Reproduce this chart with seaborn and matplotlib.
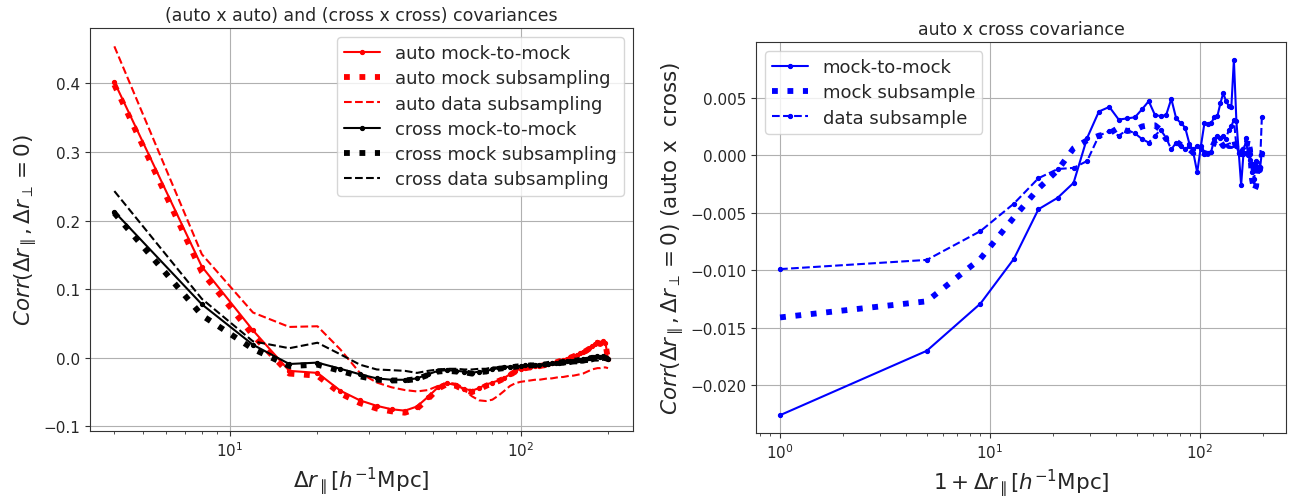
import matplotlib
matplotlib.use("Agg")
import matplotlib.pyplot as plt
import seaborn as sns

# Line-of-sight separations [h^-1 Mpc]
dr_left = [4, 8, 12, 16, 20, 24, 28, 32, 36, 40, 44, 48, 52, 56, 60, 64, 68, 72, 76, 80,
           84, 88, 92, 96, 100, 104, 108, 112, 116, 120, 124, 128, 132, 136, 140, 144, 148,
           152, 156, 160, 164, 168, 172, 176, 180, 184, 188, 192, 196, 200]
dr_right = [0, 4, 8, 12, 16, 20, 24, 28, 32, 36, 40, 44, 48, 52, 56, 60, 64, 68, 72, 76,
            80, 84, 88, 92, 96, 100, 104, 108, 112, 116, 120, 124, 128, 132, 136, 140, 144,
            148, 152, 156, 160, 164, 168, 172, 176, 180, 184, 188, 192, 196]

# (auto x auto) correlations
auto_mock_to_mock = [0.402, 0.133, 0.040, -0.019, -0.022, -0.048, -0.062, -0.070, -0.075, -0.077,
                     -0.071, -0.057, -0.043, -0.037, -0.040, -0.045, -0.048, -0.044, -0.039, -0.036,
                     -0.033, -0.029, -0.024, -0.019, -0.016, -0.015, -0.013, -0.012, -0.012, -0.010,
                     -0.009, -0.008, -0.006, -0.005, -0.003, -0.001, 0.001, 0.003, 0.004, 0.007,
                     0.009, 0.011, 0.014, 0.017, 0.020, 0.023, 0.021, 0.024, 0.022, -0.002]
auto_mock_subsampling = [0.398, 0.125, 0.033, -0.023, -0.026, -0.052, -0.066, -0.074, -0.078, -0.080,
                         -0.074, -0.060, -0.045, -0.038, -0.041, -0.047, -0.050, -0.046, -0.041, -0.037,
                         -0.034, -0.030, -0.025, -0.020, -0.017, -0.015, -0.014, -0.013, -0.012, -0.011,
                         -0.009, -0.008, -0.007, -0.005, -0.004, -0.002, 0.000, 0.002, 0.004, 0.006,
                         0.008, 0.010, 0.013, 0.016, 0.019, 0.022, 0.020, 0.023, 0.021, -0.003]
auto_data_subsampling = [0.454, 0.151, 0.066, 0.045, 0.046, 0.012, -0.022, -0.036, -0.043, -0.047,
                         -0.049, -0.047, -0.041, -0.036, -0.038, -0.047, -0.056, -0.062, -0.063, -0.061,
                         -0.055, -0.048, -0.041, -0.037, -0.035, -0.034, -0.033, -0.032, -0.032, -0.031,
                         -0.030, -0.030, -0.029, -0.028, -0.028, -0.027, -0.026, -0.026, -0.025, -0.024,
                         -0.023, -0.021, -0.019, -0.017, -0.016, -0.015, -0.015, -0.014, -0.014, -0.015]

# (cross x cross) correlations
cross_mock_to_mock = [0.213, 0.078, 0.019, -0.009, -0.007, -0.016, -0.024, -0.030, -0.032, -0.032,
                      -0.030, -0.024, -0.019, -0.018, -0.019, -0.020, -0.022, -0.020, -0.019, -0.017,
                      -0.015, -0.014, -0.013, -0.012, -0.012, -0.011, -0.011, -0.010, -0.010, -0.009,
                      -0.009, -0.008, -0.007, -0.007, -0.006, -0.005, -0.005, -0.004, -0.003, -0.003,
                      -0.002, -0.001, 0.000, 0.000, 0.001, 0.002, 0.001, 0.002, 0.000, -0.002]
cross_mock_subsampling = [0.211, 0.062, 0.013, -0.012, -0.010, -0.019, -0.027, -0.032, -0.033, -0.033,
                          -0.031, -0.025, -0.020, -0.019, -0.020, -0.021, -0.023, -0.021, -0.020, -0.018,
                          -0.016, -0.015, -0.014, -0.013, -0.012, -0.012, -0.011, -0.011, -0.010, -0.010,
                          -0.009, -0.008, -0.008, -0.007, -0.006, -0.006, -0.005, -0.004, -0.004, -0.003,
                          -0.002, -0.002, -0.001, 0.000, 0.000, 0.001, 0.001, 0.001, 0.000, -0.002]
cross_data_subsampling = [0.243, 0.086, 0.024, 0.014, 0.022, 0.005, -0.010, -0.017, -0.018, -0.019,
                          -0.022, -0.019, -0.017, -0.016, -0.016, -0.017, -0.017, -0.016, -0.016, -0.014,
                          -0.014, -0.013, -0.013, -0.012, -0.012, -0.011, -0.011, -0.011, -0.010, -0.011,
                          -0.010, -0.010, -0.010, -0.010, -0.010, -0.009, -0.009, -0.008, -0.008, -0.007,
                          -0.007, -0.006, -0.006, -0.005, -0.004, -0.004, -0.003, -0.003, -0.002, -0.002]

# (auto x cross) correlations
ac_mock_to_mock = [-0.0226, -0.0170, -0.0129, -0.0090, -0.0047, -0.0037, -0.0024, 0.0015, 0.0038, 0.0042,
                   0.0031, 0.0032, 0.0033, 0.0040, 0.0047, 0.0035, 0.0034, 0.0035, 0.0049, 0.0032,
                   0.0028, 0.0024, 0.0010, 0.0002, -0.0015, 0.0008, 0.0028, 0.0027, 0.0028, 0.0033,
                   0.0034, 0.0045, 0.0054, 0.0047, 0.0043, 0.0042, 0.0083, 0.0030, 0.0002, -0.0026,
                   0.0001, 0.0002, 0.0000, -0.0004, -0.0008, -0.0012, -0.0006, -0.0010, -0.0011, 0.0002]
ac_mock_subsample = [-0.0141, -0.0127, -0.0090, -0.0054, -0.0029, -0.0013, 0.0006, 0.0013, 0.0017, 0.0019,
                     0.0024, 0.0021, 0.0022, 0.0025, 0.0026, 0.0026, 0.0022, 0.0014, 0.0015, 0.0012,
                     0.0009, 0.0008, 0.0005, 0.0002, 0.0005, 0.0003, 0.0002, 0.0001, 0.0005, 0.0011,
                     0.0008, 0.0012, 0.0008, 0.0014, 0.0008, 0.0008, 0.0014, 0.0005, 0.0001, 0.0002,
                     0.0005, 0.0002, 0.0014, 0.0005, -0.0021, -0.0031, -0.0027, -0.0007, -0.0013, 0.0001]
ac_data_subsample = [-0.0099, -0.0091, -0.0066, -0.0042, -0.0020, -0.0012, -0.0011, -0.0005, 0.0017, 0.0021,
                     0.0017, 0.0022, 0.0019, 0.0014, 0.0011, 0.0017, 0.0022, 0.0015, 0.0005, 0.0011,
                     0.0008, 0.0005, 0.0008, 0.0005, 0.0008, 0.0005, 0.0001, 0.0002, 0.0003, 0.0014,
                     0.0017, 0.0015, 0.0017, 0.0014, 0.0022, 0.0025, 0.0031, 0.0008, 0.0002, 0.0001,
                     0.0002, 0.0015, 0.0002, 0.0001, -0.0015, -0.0021, -0.0005, -0.0013, -0.0010, 0.0033]

sns.set_style("ticks", {"axes.grid": True, "grid.color": "#b0b0b0", "grid.linewidth": 1.0,
                        "axes.edgecolor": "#333333"})
plt.rcParams["font.family"] = ["DejaVu Sans"]
plt.rcParams["xtick.labelsize"] = 11
plt.rcParams["ytick.labelsize"] = 11

fig = plt.figure(figsize=(12.92, 5.02), dpi=100)
ax1 = fig.add_axes([0.0694, 0.1394, 0.4203, 0.8028])
ax2 = fig.add_axes([0.5851, 0.1355, 0.4102, 0.7789])

solid = dict(linestyle="-", linewidth=1.5, marker=".", markersize=6, markeredgewidth=0.8)
dotted = dict(linestyle=":", linewidth=4.2)
dashed = dict(linestyle="--", linewidth=1.5)


def draw(ax, x, y, color, style, label, marker=None):
    kws = dict(style)
    if marker:
        kws.update(marker=marker, markersize=6, markeredgewidth=0.8)
    if "marker" in kws:
        kws["markeredgecolor"] = color
    sns.lineplot(x=x, y=y, ax=ax, color=color, label=label, sort=False,
                 estimator=None, **kws)


# left panel: auto x auto and cross x cross
draw(ax1, dr_left, auto_mock_to_mock, "red", solid, "auto mock-to-mock")
draw(ax1, dr_left, auto_mock_subsampling, "red", dotted, "auto mock subsampling")
draw(ax1, dr_left, auto_data_subsampling, "red", dashed, "auto data subsampling")
draw(ax1, dr_left, cross_mock_to_mock, "black", solid, "cross mock-to-mock")
draw(ax1, dr_left, cross_mock_subsampling, "black", dotted, "cross mock subsampling")
draw(ax1, dr_left, cross_data_subsampling, "black", dashed, "cross data subsampling")

ax1.set_xscale("log")
ax1.set_title("(auto x auto) and (cross x cross) covariances", fontsize=12.5)
ax1.set_xlabel(r"$\Delta r_\parallel [h^{-1}\mathrm{Mpc}]$", fontsize=15.5)
ax1.set_ylabel(r"$Corr(\Delta r_\parallel, \Delta r_\perp = 0)$", fontsize=15.5, labelpad=3)
ax1.legend(loc="upper right", fontsize=13, labelspacing=0.4)

# right panel: auto x cross
x_right = [1 + d for d in dr_right]
draw(ax2, x_right, ac_mock_to_mock, "blue", solid, "mock-to-mock")
draw(ax2, x_right, ac_mock_subsample, "blue", dotted, "mock subsample")
draw(ax2, x_right, ac_data_subsample, "blue", dashed, "data subsample", marker=".")

ax2.set_xscale("log")
ax2.set_title("auto x cross covariance", fontsize=12.5)
ax2.set_xlabel(r"$1 + \Delta r_\parallel [h^{-1}\mathrm{Mpc}]$", fontsize=15.5)
ax2.set_ylabel(r"$Corr(\Delta r_\parallel, \Delta r_\perp = 0)$ (auto x  cross)", fontsize=15.5,
               labelpad=3)
ax2.legend(loc="upper left", fontsize=13, labelspacing=0.4)

for ax in (ax1, ax2):
    ax.grid(True, which="major")
    ax.grid(False, which="minor")
    ax.tick_params(which="both", direction="out", color="#333333")

fig.savefig("out.png", dpi=100)
